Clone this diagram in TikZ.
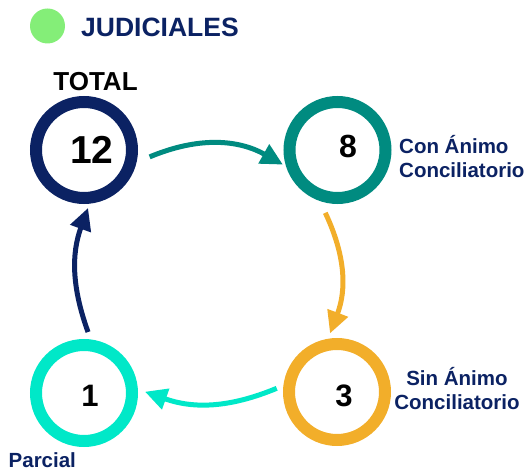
\documentclass[tikz,border=0pt]{standalone}
\usepackage{fontspec}
\setmainfont{Liberation Sans}
\usetikzlibrary{arrows.meta}
\definecolor{navy}{HTML}{0B2263}
\definecolor{tealc}{HTML}{008B80}
\definecolor{orangec}{HTML}{F2AE2A}
\definecolor{cyanc}{HTML}{00E8C8}
\definecolor{greenc}{HTML}{84EE78}
\begin{document}
\begin{tikzpicture}[x=1pt,y=1pt,
  ring/.style={circle,draw=#1,line width=12pt,minimum size=96pt,inner sep=0pt,outer sep=0pt},
  num/.style={font=\bfseries\fontsize{#1}{#1}\selectfont,inner sep=0pt,text=black},
  lab/.style={text=navy,font=\bfseries\fontsize{20.5}{24.5}\selectfont,inner sep=0pt},
  conn/.style={line width=5pt,draw=#1,-{Triangle[length=22pt,width=21pt,fill=#1]}}]
\useasboundingbox (0,0) rectangle (528,474);
% title
\fill[greenc] (47.5,448) circle (17.5) coordinate (dot);
\node[anchor=west,inner sep=0pt,text=navy,font=\bfseries\fontsize{26.5}{26.5}\selectfont] (title) at (81,447) {JUDICIALES};
\node[inner sep=0pt,font=\bfseries\fontsize{26}{26}\selectfont] (total) at (95.5,392.5) {TOTAL};
% rings
\node[ring=navy] (n12) at (84,324) {};
\node[ring=tealc] (n8) at (337.5,324) {};
\node[ring=orangec] (n3) at (337,82) {};
\node[ring=cyanc] (n1) at (84,81) {};
% numbers
\node[num=39] (t12) at (92,324.5) {12};
\node[num=32] (t8) at (348,327.5) {8};
\node[num=31] (t3) at (344,78) {3};
\node[num=31] (t1) at (90,78) {1};
% labels
\node[lab,align=left,anchor=base west] (l8) at (399,296.3) {Con Ánimo\\Conciliatorio};
\node[lab,align=center,anchor=base] (l3) at (457,64) {Sin Ánimo\\Conciliatorio};
\node[lab,anchor=base west] (l1) at (8.5,6) {Parcial};
% connectors
\draw[conn=tealc] ([shift={(-6:66pt)}]n12.center) to[bend left=26] ([shift={(195:56.5pt)}]n8.center);
\draw[conn=orangec] ([shift={(259:64pt)}]n8.center) to[bend left=23] ([shift={(96.8:59pt)}]n3.center);
\draw[conn=cyanc] ([shift={(176.5:60.4pt)}]n3.center) to[bend left=21] ([shift={(1.2:61pt)}]n1.center);
\draw[conn=navy] ([shift={(86.2:61.1pt)}]n1.center) to[bend left=20] ([shift={(-86:58.1pt)}]n12.center);
\end{tikzpicture}
\end{document}
